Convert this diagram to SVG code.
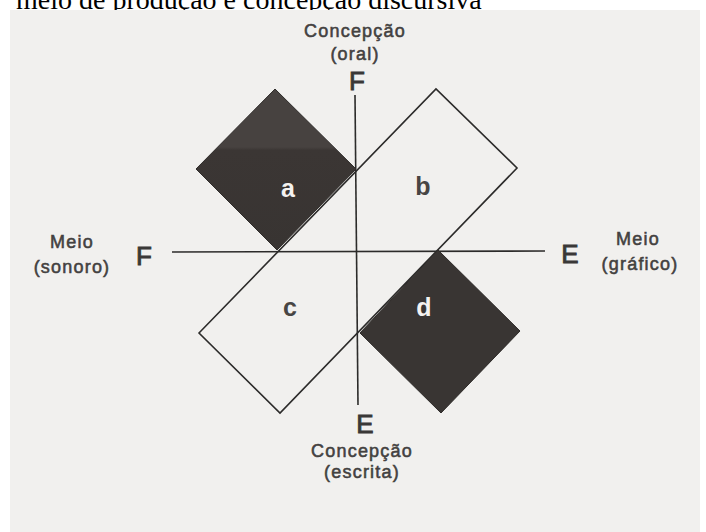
<svg xmlns="http://www.w3.org/2000/svg" width="706" height="532" viewBox="0 0 706 532">
<style>
.lbl{font-family:"Liberation Sans",Arial,sans-serif;font-size:18px;fill:#434140;stroke:#434140;stroke-width:0.55;letter-spacing:1.2px;text-anchor:middle}
.big{font-family:"Liberation Sans",Arial,sans-serif;font-size:26px;fill:#3a3837;stroke:#3a3837;stroke-width:0.9;text-anchor:middle}
.let{font-family:"Liberation Sans",Arial,sans-serif;font-size:25px;font-weight:bold;text-anchor:middle}
.ln{stroke:#2c2b2a;stroke-width:1.6;fill:none}
.dark{fill:url(#dk);stroke:#2f2c2a;stroke-width:1}
</style>
<defs>
<linearGradient id="dk" x1="0" y1="0" x2="0" y2="1">
<stop offset="0" stop-color="#474240"/>
<stop offset="0.36" stop-color="#474240"/>
<stop offset="0.38" stop-color="#3b3634"/>
<stop offset="1" stop-color="#383432"/>
</linearGradient>
</defs>
<rect width="706" height="532" fill="#ffffff"/>
<text x="16" y="9" font-family="Liberation Serif,'Times New Roman',serif" font-size="28" fill="#000">meio de produção e concepção discursiva</text>
<rect x="10" y="10" width="690" height="522" fill="#f1f0ee"/>
<g id="connectors">
<line class="ln" x1="355" y1="95" x2="358" y2="405"/>
<line class="ln" x1="172" y1="252" x2="545" y2="251"/>
</g>
<g id="rect-bc">
<polygon class="ln" points="199,333 436,89 517,168 280,413"/>
</g>
<g id="node-a">
<polygon class="dark" points="275,89 356,169 277,250 196,169"/>
<text class="let" x="288" y="197" fill="#f4f2f0">a</text>
</g>
<g id="node-b">
<text class="let" x="423" y="195" fill="#474544">b</text>
</g>
<g id="node-c">
<text class="let" x="290" y="316" fill="#474544">c</text>
</g>
<g id="node-d">
<polygon class="dark" points="438,250 520,331 441,413 360,333" style="fill:#393533"/>
<text class="let" x="424" y="316" fill="#f4f2f0">d</text>
</g>
<g id="label-top">
<text class="lbl" x="355" y="37">Concepção</text>
<text class="lbl" x="355" y="60">(oral)</text>
<text class="big" x="357" y="90">F</text>
</g>
<g id="label-bottom">
<text class="big" x="365" y="433">E</text>
<text class="lbl" x="362" y="457">Concepção</text>
<text class="lbl" x="362" y="478">(escrita)</text>
</g>
<g id="label-left">
<text class="lbl" x="72" y="248">Meio</text>
<text class="lbl" x="72" y="273">(sonoro)</text>
<text class="big" x="144" y="265">F</text>
</g>
<g id="label-right">
<text class="big" x="570" y="263">E</text>
<text class="lbl" x="638" y="245">Meio</text>
<text class="lbl" x="640" y="270">(gráfico)</text>
</g>
</svg>
